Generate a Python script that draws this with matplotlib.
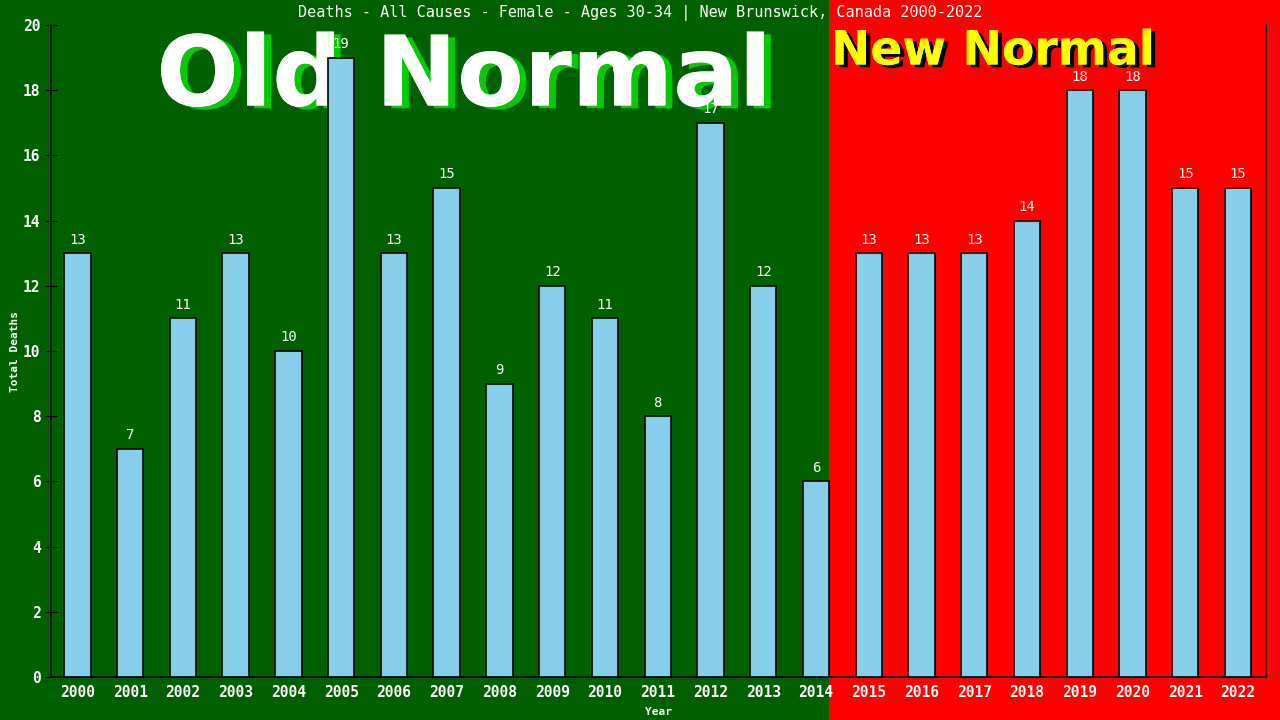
import numpy as np
import matplotlib.pyplot as plt
from matplotlib import patheffects as pe
from matplotlib.patches import Rectangle

years = [str(y) for y in range(2000, 2023)]
deaths = [13, 7, 11, 13, 10, 19, 13, 15, 9, 12, 11, 8, 17, 12, 6,
          13, 13, 13, 14, 18, 18, 15, 15]
split_idx = 14.25  # right edge of the 2014 bar

mono = 'DejaVu Sans Mono'
green = '#006000'
red = '#ff0000'

fig = plt.figure(figsize=(12.8, 7.2), dpi=100)
fig.patch.set_facecolor(green)
ax = fig.add_axes([51/1280, 43/720, (1266-51)/1280, (677-25)/720])
ax.set_facecolor('none')

x = np.arange(len(years))
ax.set_xlim(-0.5, 22.53)
ax.set_ylim(0, 20)

# background split in figure coords
xr = ax.transData.transform((split_idx, 0))[0] / 1280
fig.patches.append(Rectangle((xr, 0), 1 - xr, 1, transform=fig.transFigure,
                             color=red, zorder=-10))

ax.bar(x, deaths, width=0.5, color='#87ceeb', edgecolor='black', linewidth=1.2, zorder=3)
for xi, v in zip(x, deaths):
    ax.text(xi, v + 0.2, str(v), ha='center', va='bottom', color='white',
            fontsize=10, family=mono, zorder=4)

ax.set_xticks(x)
ax.set_xticklabels(years, family=mono, fontsize=10.5, color='white', fontweight='bold')
ax.set_yticks(range(0, 21, 2))
ax.set_yticklabels([str(v) for v in range(0, 21, 2)], family=mono, fontsize=10.5,
                   color='white', fontweight='bold')
ax.tick_params(axis='y', direction='inout', length=8, color='black')
ax.tick_params(axis='x', length=0, pad=6)
ax.spines['top'].set_visible(False)
for s in ['left', 'bottom', 'right']:
    ax.spines[s].set_color('black')
    ax.spines[s].set_linewidth(1.2)

ax.set_xlabel('Year', family=mono, fontsize=8, color='white', fontweight='bold', labelpad=5)
ax.set_ylabel('Total Deaths', family=mono, fontsize=8, color='white', fontweight='bold', labelpad=2)

fig.text(640/1280, 1 - 13/720, 'Deaths - All Causes - Female - Ages 30-34 | New Brunswick, Canada 2000-2022',
         ha='center', va='center', color='white', family=mono, fontsize=11)

# big overlay labels sit behind the bars
ax.text(464/1280, 1 - 79/720, 'Old Normal', ha='center', va='center', color='white',
        fontsize=70, fontweight='bold', family='DejaVu Sans', zorder=1,
        transform=fig.transFigure, clip_on=False,
        path_effects=[pe.withSimplePatchShadow(offset=(5, -2), shadow_rgbFace='#00cc00', alpha=1),
                      pe.Normal()])
ax.text(993/1280, 1 - 52/720, 'New Normal', ha='center', va='center', color='#ffff00',
        fontsize=34, fontweight='bold', family='DejaVu Sans', zorder=1,
        transform=fig.transFigure, clip_on=False,
        path_effects=[pe.withSimplePatchShadow(offset=(3, -2), shadow_rgbFace='black', alpha=1),
                      pe.Normal()])

fig.savefig('out.png', dpi=100, facecolor=fig.get_facecolor())
